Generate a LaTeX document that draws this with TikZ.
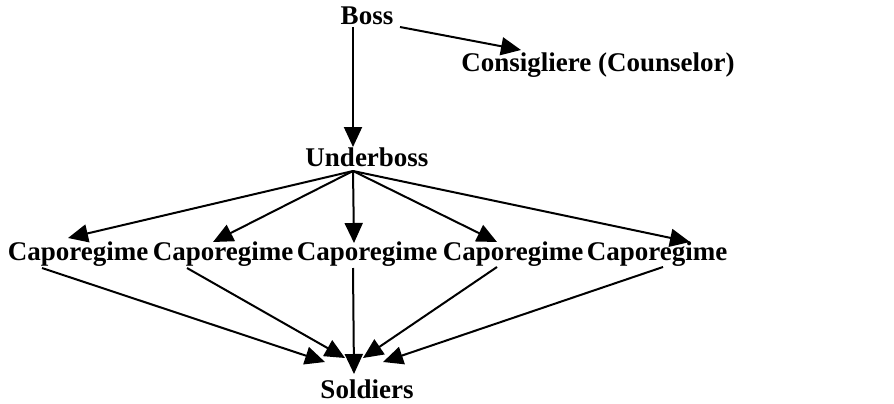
\documentclass[tikz,border=0pt]{standalone}
\usepackage{fontspec}
\setmainfont{Liberation Serif}
\usetikzlibrary{arrows.meta,calc}
\begin{document}
\begin{tikzpicture}[x=1pt,y=-1pt,
  lbl/.style={font=\fontsize{27}{31}\selectfont\bfseries, inner sep=0pt, anchor=base},
  link/.style={line width=2pt, -{Triangle[length=20pt,width=18pt]}}]
\path[use as bounding box, fill=white] (0,0) rectangle (894,404);
\node[lbl] (boss) at (367,25) {Boss};
\node[lbl] (cons) at (598,72) {Consigliere (Counselor)};
\node[lbl] (ub) at (367,166) {Underboss};
\node[lbl] (c1) at (78,260) {Caporegime};
\node[lbl] (c2) at (223,260) {Caporegime};
\node[lbl] (c3) at (367,260) {Caporegime};
\node[lbl] (c4) at (513,260) {Caporegime};
\node[lbl] (c5) at (657,260) {Caporegime};
\node[lbl] (sol) at (367,398) {Soldiers};
% Boss
\draw[link] ($(boss.base)+(-14,2)$) -- ($(ub.base)+(-14,-19)$);
\draw[link] ($(boss.base)+(33,2)$) -- ($(cons.base)+(-77,-22)$);
% Underboss to caporegimes
\draw[link] ($(ub.base)+(-14,5)$) -- ($(c1.base)+(-10,-22)$);
\draw[link] ($(ub.base)+(-14,5)$) -- ($(c2.base)+(-10,-18)$);
\draw[link] ($(ub.base)+(-14,5)$) -- ($(c3.base)+(-13,-17)$);
\draw[link] ($(ub.base)+(-14,5)$) -- ($(c4.base)+(-16,-18)$);
\draw[link] ($(ub.base)+(-14,5)$) -- ($(c5.base)+(33,-18)$);
% Caporegimes to soldiers
\draw[link] ($(c1.base)+(-36,8)$) -- ($(sol.base)+(-42,-36)$);
\draw[link] ($(c2.base)+(-36,8)$) -- ($(sol.base)+(-22,-40)$);
\draw[link] ($(c3.base)+(-14,8)$) -- ($(sol.base)+(-13,-24)$);
\draw[link] ($(c4.base)+(-16,7)$) -- ($(sol.base)+(-4,-40)$);
\draw[link] ($(c5.base)+(6,7)$) -- ($(sol.base)+(16,-36)$);
\end{tikzpicture}
\end{document}
